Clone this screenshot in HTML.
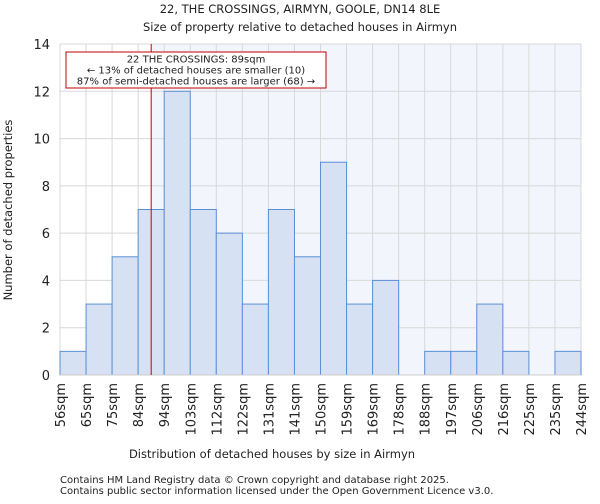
<!DOCTYPE html>
<html><head><meta charset="utf-8"><style>
body{margin:0;background:#fff;font-family:"DejaVu Sans","Liberation Sans",sans-serif;}
svg text{font-family:"DejaVu Sans","Liberation Sans",sans-serif;fill:#222;}
</style></head><body>
<svg id="chart" width="600" height="500">
<text x="300" y="13" font-size="11.5" text-anchor="middle">22, THE CROSSINGS, AIRMYN, GOOLE, DN14 8LE</text>
<text x="300" y="31" font-size="11.5" text-anchor="middle">Size of property relative to detached houses in Airmyn</text>
<g id="plot"></g>
<text x="272" y="458" font-size="11.5" text-anchor="middle">Distribution of detached houses by size in Airmyn</text>
<text transform="translate(12,210) rotate(-90)" font-size="11.5" text-anchor="middle">Number of detached properties</text>
<text x="60" y="483" font-size="10" fill="#444">Contains HM Land Registry data © Crown copyright and database right 2025.</text>
<text x="60" y="494" font-size="10" fill="#444">Contains public sector information licensed under the Open Government Licence v3.0.</text>
</svg>
<script>
const binLabels=["56sqm","65sqm","75sqm","84sqm","94sqm","103sqm","112sqm","122sqm","131sqm","141sqm","150sqm","159sqm","169sqm","178sqm","188sqm","197sqm","206sqm","216sqm","225sqm","235sqm","244sqm"];
const counts=[1,3,5,7,12,7,6,3,7,5,9,3,4,0,1,1,3,1,0,1];
const yTicks=[0,2,4,6,8,10,12,14];
const propertyBinPos=3.5; // 89sqm in bin index units
const NS="http://www.w3.org/2000/svg";
const L=60,R=581,T=44,B=375,yMax=14;
const n=counts.length,bw=(R-L)/n;
const xs=i=>L+i*bw;
const ys=v=>B-(v/yMax)*(B-T);
const g=document.getElementById('plot');
function mk(tag,attrs){const e=document.createElementNS(NS,tag);for(const k in attrs)e.setAttribute(k,attrs[k]);g.appendChild(e);return e;}
const px=xs(propertyBinPos);
let e=mk('rect',{x:px,y:T,width:R-px,height:B-T,fill:'#f2f5fc'});


for(let i=0;i<=n;i++){e=mk('line',{x1:xs(i),x2:xs(i),y1:T,y2:B,stroke:'#d8d8d8'});

}
yTicks.forEach(t=>{e=mk('line',{x1:L,x2:R,y1:ys(t),y2:ys(t),stroke:'#d8d8d8'});


const tx=mk('text',{x:L-10,y:ys(t)+5,'font-size':13,'text-anchor':'end'});tx.textContent=t;

});
counts.forEach((c,i)=>{if(c<=0)return;e=mk('rect',{x:xs(i),y:ys(c),width:bw,height:ys(0)-ys(c),fill:'#d6e1f3',stroke:'#5b8fd6','stroke-width':1});

});
e=mk('line',{x1:L,x2:R,y1:B,y2:B,stroke:'#ccc'});


binLabels.forEach((l,i)=>{const tx=mk('text',{transform:`translate(${xs(i)+5},383) rotate(-90)`,'font-size':13,'text-anchor':'end'});tx.textContent=l;

});
e=mk('line',{x1:px,x2:px,y1:T,y2:B,stroke:'#c00000','stroke-width':1});


e=mk('rect',{x:66,y:52,width:260,height:36,fill:'#fff',stroke:'#c00000'});


["22 THE CROSSINGS: 89sqm","← 13% of detached houses are smaller (10)","87% of semi-detached houses are larger (68) →"].forEach((s,i)=>{const tx=mk('text',{x:196,y:62.5+i*11,'font-size':10,'text-anchor':'middle'});tx.textContent=s;

});
</script>
</body></html>
